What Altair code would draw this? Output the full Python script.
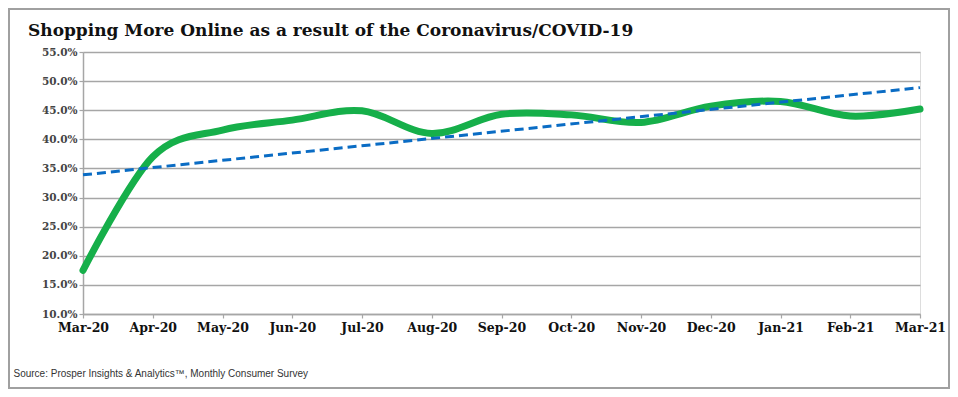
import altair as alt
import pandas as pd

months = ["Mar-20", "Apr-20", "May-20", "Jun-20", "Jul-20", "Aug-20", "Sep-20",
          "Oct-20", "Nov-20", "Dec-20", "Jan-21", "Feb-21", "Mar-21"]
values = [0.175, 0.370, 0.416, 0.433, 0.449, 0.410, 0.443,
          0.442, 0.429, 0.457, 0.465, 0.440, 0.452]
y_ticks = [0.10, 0.15, 0.20, 0.25, 0.30, 0.35, 0.40, 0.45, 0.50, 0.55]

title_text = "Shopping More Online as a result of the Coronavirus/COVID-19"
source_text = "Source: Prosper Insights & Analytics\u2122, Monthly Consumer Survey"

df = pd.DataFrame({"idx": list(range(len(months))), "month": months, "value": values})

W, H = 837, 262
PL, PT, PR, PB = 75, 44, 30, 75

label_expr = "[" + ",".join("'%s'" % m for m in months) + "][datum.value]"

x_enc = alt.X(
    "idx:Q",
    scale=alt.Scale(domain=[0, len(months) - 1], nice=False, zero=False),
    axis=alt.Axis(
        values=list(range(len(months))),
        labelExpr=label_expr,
        grid=False,
        domainColor="#A6A6A6",
        domainWidth=1.5,
        tickColor="#A6A6A6",
        tickSize=4,
        tickWidth=1.2,
        labelFont="DejaVu Serif",
        labelFontSize=12.5,
        labelFontWeight="bold",
        labelColor="#111111",
        labelPadding=3,
        labelFlush=False,
        labelOverlap=False,
        title=source_text,
        titleFont="Liberation Sans",
        titleFontSize=10,
        titleFontWeight="normal",
        titleColor="#333333",
        titleAlign="left",
        titleBaseline="alphabetic",
        titleX=-70,
        titleY=62,
    ),
)

y_enc = alt.Y(
    "value:Q",
    scale=alt.Scale(domain=[0.10, 0.55], nice=False, zero=False),
    axis=alt.Axis(
        values=y_ticks,
        format=".1%",
        grid=True,
        gridColor="#A6A6A6",
        gridWidth=1.3,
        domainColor="#A6A6A6",
        domainWidth=1.5,
        tickColor="#A6A6A6",
        tickSize=4,
        tickWidth=1.2,
        labelFont="DejaVu Serif",
        labelFontSize=10.5,
        labelFontWeight="bold",
        labelColor="#444444",
        labelPadding=2,
        labelOverlap=False,
        labelFlush=False,
        title=None,
    ),
)

base = alt.Chart(df)

line = base.mark_line(
    interpolate="cardinal", color="#16AF4A", strokeWidth=7, strokeCap="round"
).encode(x=x_enc, y=y_enc)

trend = base.transform_regression(
    "idx", "value", extent=[0, len(months) - 1]
).mark_line(color="#0A6CC4", strokeWidth=3, strokeDash=[9, 5]).encode(
    x=x_enc, y=y_enc
)

one = pd.DataFrame({"a": [0]})

border = alt.Chart(one).mark_rect(
    fill=None, stroke="#A0A0A0", strokeWidth=2
).encode(
    x=alt.value(-PL + 1), x2=alt.value(W + PR - 1),
    y=alt.value(-PT + 1), y2=alt.value(H + PB - 1),
)

title = alt.Chart(one).mark_text(
    text=title_text,
    align="left",
    baseline="alphabetic",
    font="DejaVu Serif",
    fontSize=17,
    fontWeight="bold",
    color="#111111",
).encode(x=alt.value(-55), y=alt.value(-16))

chart = alt.layer(line, trend, border, title).properties(
    width=W,
    height=H,
    padding={"left": PL, "top": PT, "right": PR, "bottom": PB},
    autosize=alt.AutoSizeParams(type="none"),
).configure_view(stroke=None).configure(background="white")

chart.save("out.html", embed_options={"renderer": "svg", "actions": False})
